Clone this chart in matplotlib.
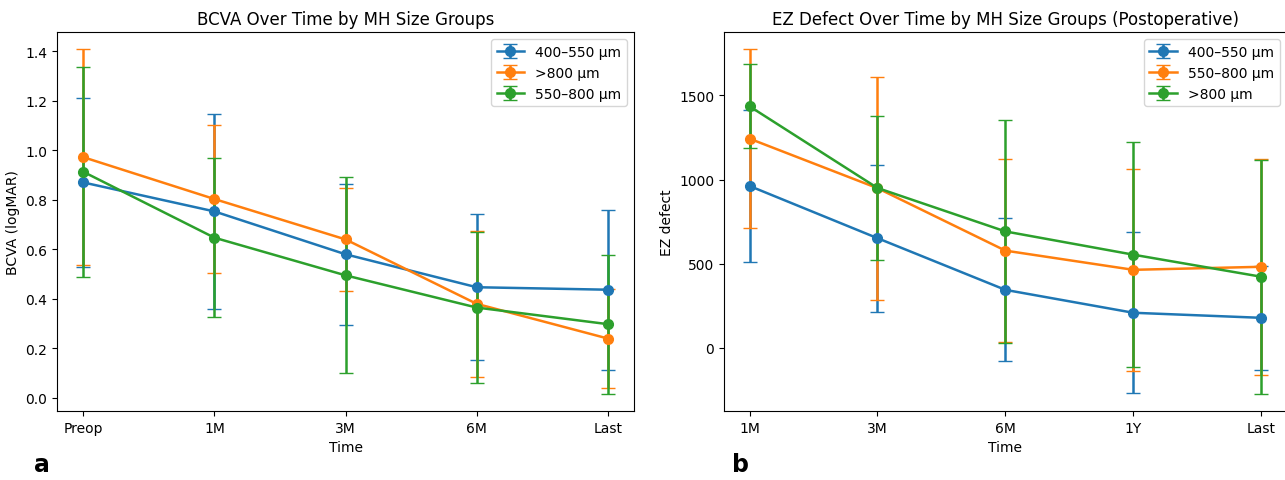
import matplotlib
matplotlib.use("Agg")
import matplotlib.pyplot as plt

# Panel a: BCVA (logMAR)
bcva_times = ["Preop", "1M", "3M", "6M", "Last"]
bcva_groups = ["400–550 µm", ">800 µm", "550–800 µm"]
bcva_mean = {
    "400–550 µm": [0.87, 0.753, 0.58, 0.447, 0.437],
    ">800 µm": [0.972, 0.803, 0.64, 0.38, 0.24],
    "550–800 µm": [0.913, 0.647, 0.495, 0.365, 0.298],
}
bcva_err = {
    "400–550 µm": [0.34, 0.393, 0.285, 0.295, 0.323],
    ">800 µm": [0.435, 0.298, 0.208, 0.294, 0.2],
    "550–800 µm": [0.423, 0.322, 0.395, 0.303, 0.281],
}

# Panel b: EZ defect (postoperative)
ez_times = ["1M", "3M", "6M", "1Y", "Last"]
ez_groups = ["400–550 µm", "550–800 µm", ">800 µm"]
ez_mean = {
    "400–550 µm": [962, 652, 345, 209, 179],
    "550–800 µm": [1243, 949, 578, 464, 482],
    ">800 µm": [1435, 950, 692, 554, 423],
}
ez_err = {
    "400–550 µm": [449, 437, 425, 479, 308],
    "550–800 µm": [530, 663, 543, 600, 643],
    ">800 µm": [250, 425, 664, 667, 695],
}

colors = ["#1f77b4", "#ff7f0e", "#2ca02c"]

fig = plt.figure(figsize=(12.85, 4.81), dpi=100)
ax1 = fig.add_axes([0.0444, 0.1435, 0.449, 0.7875])
ax2 = fig.add_axes([0.5634, 0.1435, 0.438, 0.7875])

for ax, times, groups, means, errs in (
    (ax1, bcva_times, bcva_groups, bcva_mean, bcva_err),
    (ax2, ez_times, ez_groups, ez_mean, ez_err),
):
    x = list(range(len(times)))
    for g, c in zip(groups, colors):
        ax.errorbar(x, means[g], yerr=errs[g], fmt="-o", color=c, capsize=5,
                    linewidth=1.8, markersize=7, label=g)
    ax.set_xticks(x)
    ax.set_xticklabels(times)
    ax.set_xlabel("Time")
    ax.legend(loc="upper right")

ax1.set_title("BCVA Over Time by MH Size Groups")
ax1.set_ylabel("BCVA (logMAR)")
ax2.set_title("EZ Defect Over Time by MH Size Groups (Postoperative)")
ax2.set_ylabel("EZ defect")
ax2.set_yticks([0, 500, 1000, 1500])

fig.text(0.033, 0.018, "a", fontsize=17, fontweight="bold", ha="center")
fig.text(0.576, 0.018, "b", fontsize=17, fontweight="bold", ha="center")

fig.savefig("out.png", dpi=100)
